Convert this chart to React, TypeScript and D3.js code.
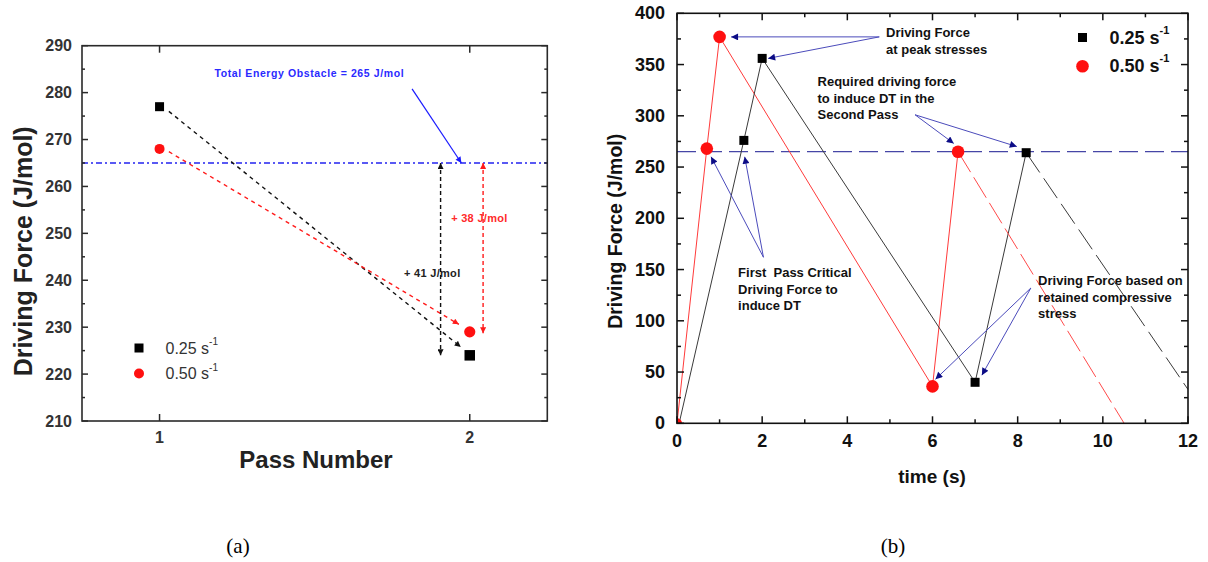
import React from "react";
import * as d3 from "d3";

// ---------- Panel (a) data ----------
const passNumbers = [1, 2];
const passRate025 = [277, 224];
const passRate050 = [268, 229];
const obstacleValue = 265;
const passYTicks = [210, 220, 230, 240, 250, 260, 270, 280, 290];

// ---------- Panel (b) data ----------
const time025 = [0.05, 1.57, 2.0, 7.0, 8.2];
const force025 = [0, 276, 356, 40, 264];
const tailTime025 = [8.2, 12];
const tailForce025 = [264, 33];

const time050 = [0, 0.7, 1.0, 6.0, 6.6];
const force050 = [0, 268, 377, 36, 265];
const tailTime050 = [6.6, 10.5];
const tailForce050 = [265, 0];

const timeTicks = [0, 2, 4, 6, 8, 10, 12];
const forceTicks = [0, 50, 100, 150, 200, 250, 300, 350, 400];

// annotation anchors (data units of panel b)
const annotB = [
  { lines: ["Driving Force", "at peak stresses"], tx: 4.91, ty: 381, from: [4.75, 377], to: [[1.27, 377], [2.14, 356]] },
  { lines: ["Required driving force", "to induce DT in the", "Second Pass"], tx: 3.3, ty: 333, from: [5.59, 301], to: [[6.5, 273], [7.98, 270]] },
  { lines: ["First  Pass Critical", "Driving Force to", "induce DT"], tx: 1.435, ty: 147, from: [2.03, 162], to: [[0.8, 260], [1.59, 260]] },
  { lines: ["Driving Force based on", "retained compressive", "stress"], tx: 8.48, ty: 139, from: [8.31, 132], to: [[6.07, 43], [7.16, 47]] },
];

const FONT = "'Liberation Sans', Arial, Helvetica, sans-serif";

function PanelA() {
  const x = d3.scaleLinear().domain([0.75, 2.25]).range([82, 547.3]);
  const y = d3.scaleLinear().domain([210, 290]).range([421, 45.7]);
  const [x0, x1] = x.range();
  const [y0, y1] = y.range();
  const minor = d3.range(215, 290, 10);
  const axisCol = "#2a2a2a";
  return (
    <g>
      <defs>
        <marker id="aBlack" viewBox="0 0 10 10" refX="10" refY="5" markerWidth="7" markerHeight="6" markerUnits="userSpaceOnUse" orient="auto-start-reverse">
          <path d="M0,0 L10,5 L0,10 z" fill="#111" />
        </marker>
        <marker id="aRed" viewBox="0 0 10 10" refX="10" refY="5" markerWidth="7" markerHeight="6" markerUnits="userSpaceOnUse" orient="auto-start-reverse">
          <path d="M0,0 L10,5 L0,10 z" fill="#ff1a1a" />
        </marker>
        <marker id="aBlue" viewBox="0 0 10 10" refX="10" refY="5" markerWidth="9" markerHeight="6" markerUnits="userSpaceOnUse" orient="auto-start-reverse">
          <path d="M0,0 L10,5 L0,10 z" fill="#1a1aff" />
        </marker>
      </defs>
      {/* obstacle line */}
      <line x1={x0} x2={x1} y1={y(obstacleValue)} y2={y(obstacleValue)} stroke="#2323f0" strokeWidth={1.6} strokeDasharray="6 3 2 3" />
      {/* connecting dashed arrows */}
      <line x1={x(1.03)} y1={y(passRate025[0] - 1)} x2={x(1.971)} y2={y(225.8)} stroke="#111" strokeWidth={1.4} strokeDasharray="4 4" markerEnd="url(#aBlack)" />
      <line x1={x(1.03)} y1={y(passRate050[0] - 0.6)} x2={x(1.965)} y2={y(230.6)} stroke="#ff1a1a" strokeWidth={1.4} strokeDasharray="4 4" markerEnd="url(#aRed)" />
      {/* vertical double arrows */}
      <line x1={x(1.906)} x2={x(1.906)} y1={y(obstacleValue)} y2={y(passRate025[1])} stroke="#111" strokeWidth={1.4} strokeDasharray="4 3" markerStart="url(#aBlack)" markerEnd="url(#aBlack)" />
      <line x1={x(2.043)} x2={x(2.043)} y1={y(obstacleValue)} y2={y(passRate050[1] - 0.3)} stroke="#ff1a1a" strokeWidth={1.4} strokeDasharray="4 3" markerStart="url(#aRed)" markerEnd="url(#aRed)" />
      {/* blue arrow */}
      <line x1={x(1.814)} y1={y(280.8)} x2={x(1.973)} y2={y(obstacleValue)} stroke="#1a1aff" strokeWidth={1.2} markerEnd="url(#aBlue)" />
      {/* texts */}
      <text x={x(1.177)} y={y(284.1)} dominantBaseline="central" fontFamily={FONT} fontSize={10.5} letterSpacing={0.6} fontWeight="bold" fill="#2a2aff">Total Energy Obstacle = 265 J/mol</text>
      <text x={x(1.788)} y={y(241.5)} dominantBaseline="central" fontFamily={FONT} fontSize={11} letterSpacing={0.3} fontWeight="bold" fill="#222">+ 41 J/mol</text>
      <text x={x(1.94)} y={y(253.3)} dominantBaseline="central" fontFamily={FONT} fontSize={11} letterSpacing={0.3} fontWeight="bold" fill="#ff2a2a">+ 38 J/mol</text>
      {/* markers */}
      {passNumbers.map((p, i) => {
        const s = i === 0 ? 9 : 10.5;
        return <rect key={"s" + i} x={x(p) - s / 2} y={y(passRate025[i]) - s / 2} width={s} height={s} fill="#000" />;
      })}
      {passNumbers.map((p, i) => (
        <circle key={"c" + i} cx={x(p)} cy={y(passRate050[i])} r={i === 0 ? 5 : 5.6} fill="#ff1010" />
      ))}
      {/* frame */}
      <rect x={x0} y={y1} width={x1 - x0} height={y0 - y1} fill="none" stroke={axisCol} strokeWidth={1.6} />
      {passYTicks.map((t) => (
        <g key={t}>
          <line x1={x0} x2={x0 + 6} y1={y(t)} y2={y(t)} stroke={axisCol} strokeWidth={1.5} />
          <line x1={x1} x2={x1 - 6} y1={y(t)} y2={y(t)} stroke={axisCol} strokeWidth={1.5} />
          <text x={x0 - 10} y={y(t)} textAnchor="end" dominantBaseline="central" fontFamily={FONT} fontSize={16} fontWeight="bold" fill="#333">{t}</text>
        </g>
      ))}
      {minor.map((t) => (
        <g key={"m" + t}>
          <line x1={x0} x2={x0 + 3} y1={y(t)} y2={y(t)} stroke={axisCol} strokeWidth={1.5} />
          <line x1={x1} x2={x1 - 3} y1={y(t)} y2={y(t)} stroke={axisCol} strokeWidth={1.5} />
        </g>
      ))}
      {passNumbers.map((p) => (
        <g key={"x" + p}>
          <line x1={x(p)} x2={x(p)} y1={y0} y2={y0 - 7} stroke={axisCol} strokeWidth={1.5} />
          <line x1={x(p)} x2={x(p)} y1={y1} y2={y1 + 7} stroke={axisCol} strokeWidth={1.5} />
          <text x={x(p)} y={y0 + 16} textAnchor="middle" dominantBaseline="central" fontFamily={FONT} fontSize={16} fontWeight="bold" fill="#333">{p}</text>
        </g>
      ))}
      {/* legend */}
      <rect x={134.5} y={343.5} width={9} height={9} fill="#000" />
      <text x={165.5} y={348} dominantBaseline="central" fontFamily={FONT} fontSize={16} fill="#333">0.25 s<tspan dy={-7} fontSize={10}>-1</tspan></text>
      <circle cx={139} cy={373.5} r={5} fill="#ff1010" />
      <text x={165.5} y={373.5} dominantBaseline="central" fontFamily={FONT} fontSize={16} fill="#333">0.50 s<tspan dy={-7} fontSize={10}>-1</tspan></text>
      {/* axis titles */}
      <text transform={`translate(23,${(y0 + y1) / 2 + 18}) rotate(-90)`} textAnchor="middle" dominantBaseline="central" fontFamily={FONT} fontSize={25} fontWeight="bold" fill="#222">Driving Force (J/mol)</text>
      <text x={316} y={459} textAnchor="middle" dominantBaseline="central" fontFamily={FONT} fontSize={24} fontWeight="bold" fill="#222">Pass Number</text>
      <text x={238} y={546} textAnchor="middle" dominantBaseline="central" fontFamily="'Liberation Serif', 'Times New Roman', serif" fontSize={21} fill="#000">(a)</text>
    </g>
  );
}

function PanelB() {
  const x = d3.scaleLinear().domain([0, 12]).range([677, 1188]);
  const y = d3.scaleLinear().domain([0, 400]).range([423.3, 13.3]);
  const [x0, x1] = x.range();
  const [y0, y1] = y.range();
  const line = d3.line<[number, number]>().x((d) => x(d[0])).y((d) => y(d[1]));
  const pts025 = time025.map((t, i) => [t, force025[i]] as [number, number]);
  const pts050 = time050.map((t, i) => [t, force050[i]] as [number, number]);
  const tail025 = tailTime025.map((t, i) => [t, tailForce025[i]] as [number, number]);
  const tail050 = tailTime050.map((t, i) => [t, tailForce050[i]] as [number, number]);
  const minorY = d3.range(25, 400, 50);
  const minorX = d3.range(1, 12, 2);
  const ax = "#111";
  return (
    <g>
      <defs>
        <clipPath id="clipB">
          <rect x={x0} y={y1} width={x1 - x0} height={y0 - y1} />
        </clipPath>
        <marker id="aNavy" viewBox="0 0 10 10" refX="10" refY="5" markerWidth="10" markerHeight="7" markerUnits="userSpaceOnUse" orient="auto">
          <path d="M0,0 L10,5 L0,10 z" fill="#0c0c86" />
        </marker>
      </defs>
      <line x1={x0} x2={x1} y1={y(obstacleValue)} y2={y(obstacleValue)} stroke="#4646a6" strokeWidth={1.2} strokeDasharray="19 7" />
      <g clipPath="url(#clipB)">
        <path d={line(pts050) || ""} fill="none" stroke="#ff3a3a" strokeWidth={1} />
        <path d={line(pts025) || ""} fill="none" stroke="#3a3a3a" strokeWidth={1} />
        <path d={line(tail050) || ""} fill="none" stroke="#ff4a4a" strokeWidth={1} strokeDasharray="24 6" />
        <path d={line(tail025) || ""} fill="none" stroke="#3a3a3a" strokeWidth={1} strokeDasharray="24 7" />
        {pts050.map((d, i) => (
          <circle key={"c" + i} cx={x(d[0])} cy={y(d[1])} r={i === 0 ? 5 : 6.3} fill="#ff1010" />
        ))}
        {pts025.slice(1).map((d, i) => (
          <rect key={"s" + i} x={x(d[0]) - 4.5} y={y(d[1]) - 4.5} width={9} height={9} fill="#000" />
        ))}
      </g>
      {/* annotations */}
      {annotB.map((a, k) => (
        <g key={"a" + k}>
          {a.to.map((t, j) => (
            <line key={j} x1={x(a.from[0])} y1={y(a.from[1])} x2={x(t[0])} y2={y(t[1])} stroke="#4b4bbb" strokeWidth={1} markerEnd="url(#aNavy)" />
          ))}
          {a.lines.map((l, j) => (
            <text key={"t" + j} x={x(a.tx)} y={y(a.ty) + j * 16.4} dominantBaseline="central" fontFamily={FONT} fontSize={13} fontWeight="bold" fill="#111" style={{ whiteSpace: "pre" }}>{l}</text>
          ))}
        </g>
      ))}
      {/* frame & ticks */}
      <rect x={x0} y={y1} width={x1 - x0} height={y0 - y1} fill="none" stroke={ax} strokeWidth={1.6} />
      {forceTicks.map((t) => (
        <g key={t}>
          <line x1={x0} x2={x0 + 7} y1={y(t)} y2={y(t)} stroke={ax} strokeWidth={1.5} />
          <line x1={x1} x2={x1 - 7} y1={y(t)} y2={y(t)} stroke={ax} strokeWidth={1.5} />
          <text x={x0 - 12} y={y(t)} textAnchor="end" dominantBaseline="central" fontFamily={FONT} fontSize={18} fontWeight="bold" fill="#111">{t}</text>
        </g>
      ))}
      {minorY.map((t) => (
        <g key={"m" + t}>
          <line x1={x0} x2={x0 + 4} y1={y(t)} y2={y(t)} stroke={ax} strokeWidth={1.5} />
          <line x1={x1} x2={x1 - 4} y1={y(t)} y2={y(t)} stroke={ax} strokeWidth={1.5} />
        </g>
      ))}
      {timeTicks.map((t) => (
        <g key={"x" + t}>
          <line x1={x(t)} x2={x(t)} y1={y0} y2={y0 - 7} stroke={ax} strokeWidth={1.5} />
          <line x1={x(t)} x2={x(t)} y1={y1} y2={y1 + 7} stroke={ax} strokeWidth={1.5} />
          <text x={x(t)} y={y0 + 18} textAnchor="middle" dominantBaseline="central" fontFamily={FONT} fontSize={18} fontWeight="bold" fill="#111">{t}</text>
        </g>
      ))}
      {minorX.map((t) => (
        <g key={"mx" + t}>
          <line x1={x(t)} x2={x(t)} y1={y0} y2={y0 - 4} stroke={ax} strokeWidth={1.5} />
          <line x1={x(t)} x2={x(t)} y1={y1} y2={y1 + 4} stroke={ax} strokeWidth={1.5} />
        </g>
      ))}
      {/* legend */}
      <rect x={1078} y={33} width={9} height={9} fill="#000" />
      <text x={1109.5} y={37.5} dominantBaseline="central" fontFamily={FONT} fontSize={18} fontWeight="bold" fill="#111">0.25 s<tspan dy={-8} fontSize={11}>-1</tspan></text>
      <circle cx={1082.5} cy={66.2} r={6.3} fill="#ff1010" />
      <text x={1109.5} y={66.2} dominantBaseline="central" fontFamily={FONT} fontSize={18} fontWeight="bold" fill="#111">0.50 s<tspan dy={-8} fontSize={11}>-1</tspan></text>
      {/* titles */}
      <text transform={`translate(615,${(y0 + y1) / 2 + 13}) rotate(-90)`} textAnchor="middle" dominantBaseline="central" fontFamily={FONT} fontSize={19.5} fontWeight="bold" fill="#111">Driving Force (J/mol)</text>
      <text x={932} y={476} textAnchor="middle" dominantBaseline="central" fontFamily={FONT} fontSize={19} fontWeight="bold" fill="#111">time (s)</text>
      <text x={893} y={546} textAnchor="middle" dominantBaseline="central" fontFamily="'Liberation Serif', 'Times New Roman', serif" fontSize={21} fill="#000">(b)</text>
    </g>
  );
}

export default function App() {
  return (
    <div style={{ position: "absolute", left: 0, top: 0, width: 1208, height: 562, background: "#fff" }}>
      <svg width={1208} height={562} viewBox="0 0 1208 562" style={{ display: "block" }}>
        <rect width={1208} height={562} fill="#fff" />
        <PanelA />
        <PanelB />
      </svg>
    </div>
  );
}
